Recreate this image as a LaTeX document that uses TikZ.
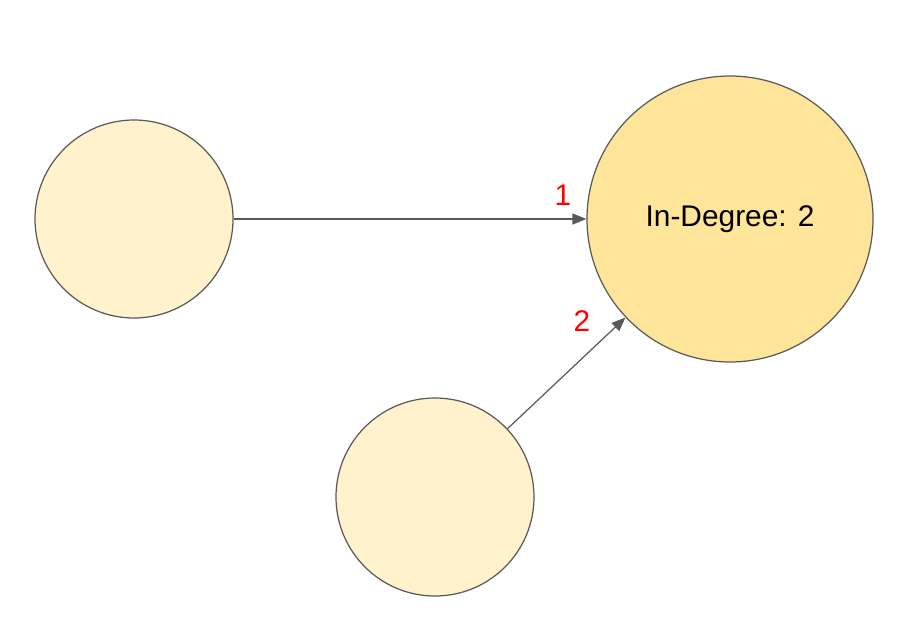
\documentclass[tikz,border=0pt]{standalone}
\usepackage{fontspec}
\setmainfont{Liberation Sans}
\usetikzlibrary{positioning, arrows.meta}

\definecolor{nodefill}{HTML}{FFF2CC}
\definecolor{hubfill}{HTML}{FFE599}
\definecolor{edgegray}{HTML}{595959}

\begin{document}
\begin{tikzpicture}[
        vertex/.style={circle, draw=edgegray, line width=0.7pt, fill=nodefill, minimum size=3.96cm, inner sep=0pt},
        hub/.style={vertex, fill=hubfill, minimum size=5.72cm, font=\fontsize{17}{20}\selectfont},
        arrow/.style={-{Triangle[length=0.28cm, width=0.22cm]}, draw=edgegray, line width=0.7pt},
        weight/.style={text=red, font=\fontsize{17}{20}\selectfont}
        ]
        \useasboundingbox (0,0) rectangle (18.4,12.6);

        \node[vertex] (left) at (2.68,8.22) {};
        \node[vertex] (bottom) at (8.70,2.66) {};
        \node[hub] (target) at (14.60,8.22) {In-Degree: 2};

        \draw[arrow] (left) -- (target);
        \draw[arrow] (bottom) -- (target);

        \node[weight] (w1) at (11.26,8.70) {1};
        \node[weight] (w2) at (11.64,6.18) {2};
    \end{tikzpicture}
\end{document}
